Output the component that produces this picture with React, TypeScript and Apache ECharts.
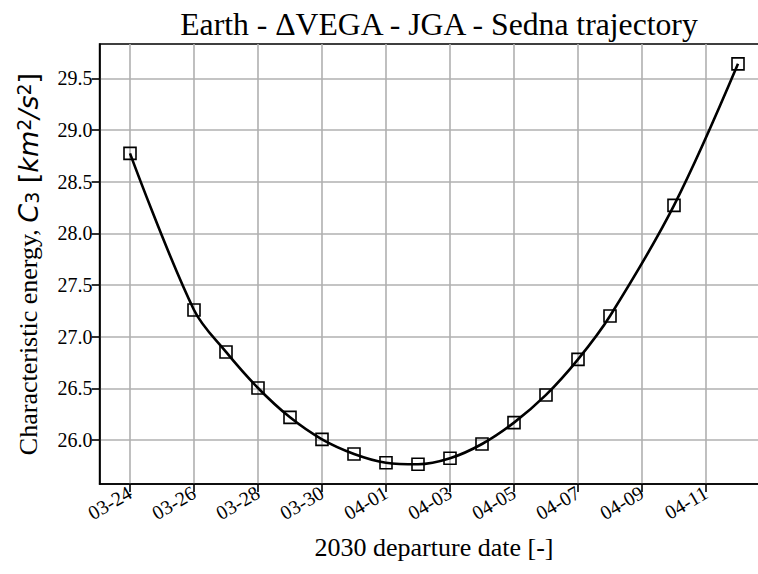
import React, { useEffect, useRef } from "react";
import * as echarts from "echarts";

// Day offsets from 2030-03-24 (departure date)
const START = { year: 2030, month: 2, day: 24 };
const dayOffsets = [0, 2, 3, 4, 5, 6, 7, 8, 9, 10, 11, 12, 13, 14, 15, 17, 19];
const c3Values = [
  28.774, 27.258, 26.852, 26.503, 26.219, 26.006, 25.865, 25.78, 25.765,
  25.823, 25.961, 26.168, 26.436, 26.78, 27.2, 28.27, 29.64,
];
const xTickDays = [0, 2, 4, 6, 8, 10, 12, 14, 16, 18];
const yTicks = [26.0, 26.5, 27.0, 27.5, 28.0, 28.5, 29.0, 29.5];

const fmtDate = (d: number) => {
  const dt = new Date(Date.UTC(START.year, START.month, START.day + Math.round(d)));
  const mm = String(dt.getUTCMonth() + 1).padStart(2, "0");
  const dd = String(dt.getUTCDate()).padStart(2, "0");
  return `${mm}-${dd}`;
};

const SERIF = "Liberation Serif";
const SANS = "DejaVu Sans";

export default function App() {
  const ref = useRef<HTMLDivElement>(null);
  useEffect(() => {
    if (!ref.current) return;
    const chart = echarts.init(ref.current, null, { renderer: "svg" });
    chart.setOption({
      animation: false,
      backgroundColor: "#ffffff",
      title: {
        text: "Earth - ΔVEGA - JGA - Sedna trajectory",
        left: 434,
        textAlign: "center",
        top: 3,
        textStyle: { fontFamily: SERIF, fontSize: 31.7, fontWeight: "normal", color: "#000" },
      },
      grid: {
        left: 99.6,
        right: 1.6,
        top: 44,
        bottom: 90,
        show: true,
        borderColor: "#000",
        borderWidth: 1.6,
        backgroundColor: "transparent",
      },
      xAxis: {
        type: "value",
        min: -0.95,
        max: 19.95,
        name: "2030 departure date [-]",
        nameLocation: "middle",
        nameGap: 50,
        nameTextStyle: { fontFamily: SERIF, fontSize: 26, color: "#000" },
        axisLine: { show: true, onZero: false, lineStyle: { color: "#000", width: 1.6 } },
        axisTick: { show: true, length: 8, customValues: xTickDays, lineStyle: { color: "#000", width: 1.6 } },
        axisLabel: {
          customValues: xTickDays,
          rotate: 30,
          margin: 7,
          fontFamily: SERIF,
          fontSize: 20,
          color: "#000",
          formatter: (v: number) => fmtDate(v),
        },
        splitLine: { show: true, lineStyle: { color: "#b0b0b0", width: 1.6 } },
      },
      yAxis: {
        type: "value",
        min: 25.574,
        max: 29.832,
        name: "{a|Characteristic energy, }{m|C}{sub|3}{u| [}{m|km}{sup|2}{m|/s}{sup|2}{u|]}",
        nameLocation: "middle",
        nameGap: 58,
        nameRotate: 90,
        nameTextStyle: {
          fontFamily: SERIF,
          fontSize: 26,
          color: "#000",
          rich: {
            a: { fontFamily: SERIF, fontSize: 26, color: "#000" },
            m: { fontFamily: SANS, fontStyle: "italic", fontSize: 27, color: "#000" },
            u: { fontFamily: SANS, fontSize: 27, color: "#000" },
            sup: { fontFamily: SANS, fontSize: 19, color: "#000", verticalAlign: "top" },
            sub: { fontFamily: SANS, fontSize: 19, color: "#000", verticalAlign: "bottom" },
          },
        },
        axisLine: { show: true, onZero: false, lineStyle: { color: "#000", width: 1.6 } },
        axisTick: { show: true, length: 8, customValues: yTicks, lineStyle: { color: "#000", width: 1.6 } },
        axisLabel: {
          customValues: yTicks,
          margin: 7,
          fontFamily: SERIF,
          fontSize: 20,
          color: "#000",
          formatter: (v: number) => v.toFixed(1),
        },
        splitLine: { show: true, lineStyle: { color: "#b0b0b0", width: 1.6 } },
      },
      series: [
        {
          type: "line",
          data: dayOffsets.map((d, i) => [d, c3Values[i]]),
          smooth: 0.35,
          symbol: "rect",
          symbolSize: 12,
          showAllSymbol: true,
          lineStyle: { color: "#000", width: 2.6 },
          itemStyle: { color: "rgba(0,0,0,0)", borderColor: "#000", borderWidth: 1.6 },
          z: 3,
        },
      ],
    });
    return () => chart.dispose();
  }, []);
  return (
    <div
      ref={ref}
      style={{ position: "fixed", left: 0, top: 0, width: 770, height: 574 }}
    />
  );
}
